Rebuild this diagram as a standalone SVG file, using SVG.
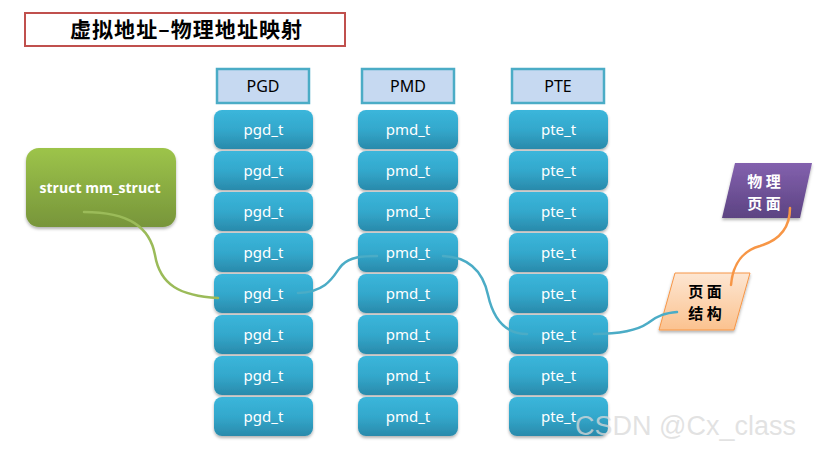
<svg xmlns="http://www.w3.org/2000/svg" width="819" height="450" viewBox="0 0 819 450">
<defs>
<linearGradient id="gCell" x1="0" y1="0" x2="0" y2="1">
<stop offset="0" stop-color="#3bb6db"/><stop offset="0.5" stop-color="#33a8cc"/><stop offset="1" stop-color="#2a8aab"/>
</linearGradient>
<linearGradient id="gGreen" x1="0" y1="0" x2="0" y2="1">
<stop offset="0" stop-color="#9dc44a"/><stop offset="1" stop-color="#77953a"/>
</linearGradient>
<linearGradient id="gPurple" x1="0" y1="0" x2="0" y2="1">
<stop offset="0" stop-color="#8361ae"/><stop offset="1" stop-color="#5c4382"/>
</linearGradient>
<linearGradient id="gOrange" x1="0" y1="0" x2="0" y2="1">
<stop offset="0" stop-color="#fde6d2"/><stop offset="1" stop-color="#fbc28f"/>
</linearGradient>
<filter id="sh" x="-10%" y="-10%" width="125%" height="135%">
<feDropShadow dx="0" dy="2" stdDeviation="1.5" flood-color="#000" flood-opacity="0.3"/>
</filter>
</defs>
<style>
.cell{fill:url(#gCell);filter:url(#sh)}
.ct{font-family:"Noto Sans","Liberation Sans",sans-serif;font-size:15px;fill:#fff;text-anchor:middle}
.hd{fill:#c6d9f1;stroke:#4bacc6;stroke-width:2.5}
.ht{font-family:"Noto Sans","Liberation Sans",sans-serif;font-size:16px;fill:#000;text-anchor:middle}
.cjk{font-family:"Noto Sans CJK SC",sans-serif;font-weight:bold;text-anchor:middle}
.conn{fill:none;stroke-width:2.5;stroke-linecap:round}
</style>
<g id="title">
<rect x="25" y="13" width="320" height="33" fill="#fff" stroke="#c0504d" stroke-width="2"/>
<text x="186" y="37" class="cjk" font-size="21" fill="#000" textLength="232" lengthAdjust="spacing">虚拟地址–物理地址映射</text>
</g>
<g id="hdr-pgd"><rect class="hd" x="217" y="69" width="92" height="34"/><text class="ht" x="263" y="92">PGD</text></g>
<g id="hdr-pmd"><rect class="hd" x="362" y="69" width="92" height="34"/><text class="ht" x="408" y="92">PMD</text></g>
<g id="hdr-pte"><rect class="hd" x="512" y="69" width="92" height="34"/><text class="ht" x="558" y="92">PTE</text></g>
<g id="pgd">
<g id="pgd0"><rect class="cell" x="214" y="110" width="99" height="39" rx="8"/><text class="ct" x="263.5" y="135">pgd_t</text></g>
<g id="pgd1"><rect class="cell" x="214" y="151" width="99" height="39" rx="8"/><text class="ct" x="263.5" y="176">pgd_t</text></g>
<g id="pgd2"><rect class="cell" x="214" y="192" width="99" height="39" rx="8"/><text class="ct" x="263.5" y="217">pgd_t</text></g>
<g id="pgd3"><rect class="cell" x="214" y="233" width="99" height="39" rx="8"/><text class="ct" x="263.5" y="258">pgd_t</text></g>
<g id="pgd4"><rect class="cell" x="214" y="274" width="99" height="39" rx="8"/><text class="ct" x="263.5" y="299">pgd_t</text></g>
<g id="pgd5"><rect class="cell" x="214" y="315" width="99" height="39" rx="8"/><text class="ct" x="263.5" y="340">pgd_t</text></g>
<g id="pgd6"><rect class="cell" x="214" y="356" width="99" height="39" rx="8"/><text class="ct" x="263.5" y="381">pgd_t</text></g>
<g id="pgd7"><rect class="cell" x="214" y="397" width="99" height="39" rx="8"/><text class="ct" x="263.5" y="422">pgd_t</text></g>
</g>
<g id="pmd">
<g id="pmd0"><rect class="cell" x="358" y="110" width="100" height="39" rx="8"/><text class="ct" x="408" y="135">pmd_t</text></g>
<g id="pmd1"><rect class="cell" x="358" y="151" width="100" height="39" rx="8"/><text class="ct" x="408" y="176">pmd_t</text></g>
<g id="pmd2"><rect class="cell" x="358" y="192" width="100" height="39" rx="8"/><text class="ct" x="408" y="217">pmd_t</text></g>
<g id="pmd3"><rect class="cell" x="358" y="233" width="100" height="39" rx="8"/><text class="ct" x="408" y="258">pmd_t</text></g>
<g id="pmd4"><rect class="cell" x="358" y="274" width="100" height="39" rx="8"/><text class="ct" x="408" y="299">pmd_t</text></g>
<g id="pmd5"><rect class="cell" x="358" y="315" width="100" height="39" rx="8"/><text class="ct" x="408" y="340">pmd_t</text></g>
<g id="pmd6"><rect class="cell" x="358" y="356" width="100" height="39" rx="8"/><text class="ct" x="408" y="381">pmd_t</text></g>
<g id="pmd7"><rect class="cell" x="358" y="397" width="100" height="39" rx="8"/><text class="ct" x="408" y="422">pmd_t</text></g>
</g>
<g id="pte">
<g id="pte0"><rect class="cell" x="509" y="110" width="99" height="39" rx="8"/><text class="ct" x="558.5" y="135">pte_t</text></g>
<g id="pte1"><rect class="cell" x="509" y="151" width="99" height="39" rx="8"/><text class="ct" x="558.5" y="176">pte_t</text></g>
<g id="pte2"><rect class="cell" x="509" y="192" width="99" height="39" rx="8"/><text class="ct" x="558.5" y="217">pte_t</text></g>
<g id="pte3"><rect class="cell" x="509" y="233" width="99" height="39" rx="8"/><text class="ct" x="558.5" y="258">pte_t</text></g>
<g id="pte4"><rect class="cell" x="509" y="274" width="99" height="39" rx="8"/><text class="ct" x="558.5" y="299">pte_t</text></g>
<g id="pte5"><rect class="cell" x="509" y="315" width="99" height="39" rx="8"/><text class="ct" x="558.5" y="340">pte_t</text></g>
<g id="pte6"><rect class="cell" x="509" y="356" width="99" height="39" rx="8"/><text class="ct" x="558.5" y="381">pte_t</text></g>
<g id="pte7"><rect class="cell" x="509" y="397" width="99" height="39" rx="8"/><text class="ct" x="558.5" y="422">pte_t</text></g>
</g>
<g id="mm">
<rect x="26" y="148" width="150" height="79" rx="13" fill="url(#gGreen)" filter="url(#sh)"/>
<text x="100" y="193" font-family="'Open Sans','Noto Sans',sans-serif" font-weight="bold" font-size="14" fill="#fff" text-anchor="middle" textLength="121" lengthAdjust="spacingAndGlyphs">struct mm_struct</text>
</g>
<g id="page-struct">
<polygon points="675,273 750,273 734,330 659,330" fill="url(#gOrange)" stroke="#f79646" stroke-width="1" filter="url(#sh)"/>
<text class="cjk" font-size="15" fill="#000"><tspan x="705" y="297">页 面</tspan><tspan x="705" y="319">结 构</tspan></text>
</g>
<g id="phys-page">
<polygon points="735,163 812,163 800,218 722,218" fill="url(#gPurple)" filter="url(#sh)"/>
<text class="cjk" font-size="15" fill="#fff"><tspan x="764" y="187">物 理</tspan><tspan x="764" y="209">页 面</tspan></text>
</g>
<g id="connectors">
<path class="conn" stroke="#9bbb59" d="M84,212 C130,212 150,228 155,255 C160,285 180,296 218,298"/>
<path class="conn" stroke="#4bacc6" d="M298,293 C330,292 335,272 342,265 C350,257 362,256 377,256"/>
<path class="conn" stroke="#4bacc6" d="M443,256 C470,257 483,272 488,295 C494,322 508,334 527,334"/>
<path class="conn" stroke="#4bacc6" d="M594,334 C620,334 638,330 648,323 C658,315 666,313 677,312"/>
<path class="conn" stroke="#f79646" d="M731,285 C733,262 745,250 760,246 C780,240 790,228 790,208"/>
</g>
<text x="575" y="435" font-family="'Liberation Sans',sans-serif" font-size="27" fill="#d9d9d9" fill-opacity="0.75">CSDN @Cx_class</text>
</svg>
